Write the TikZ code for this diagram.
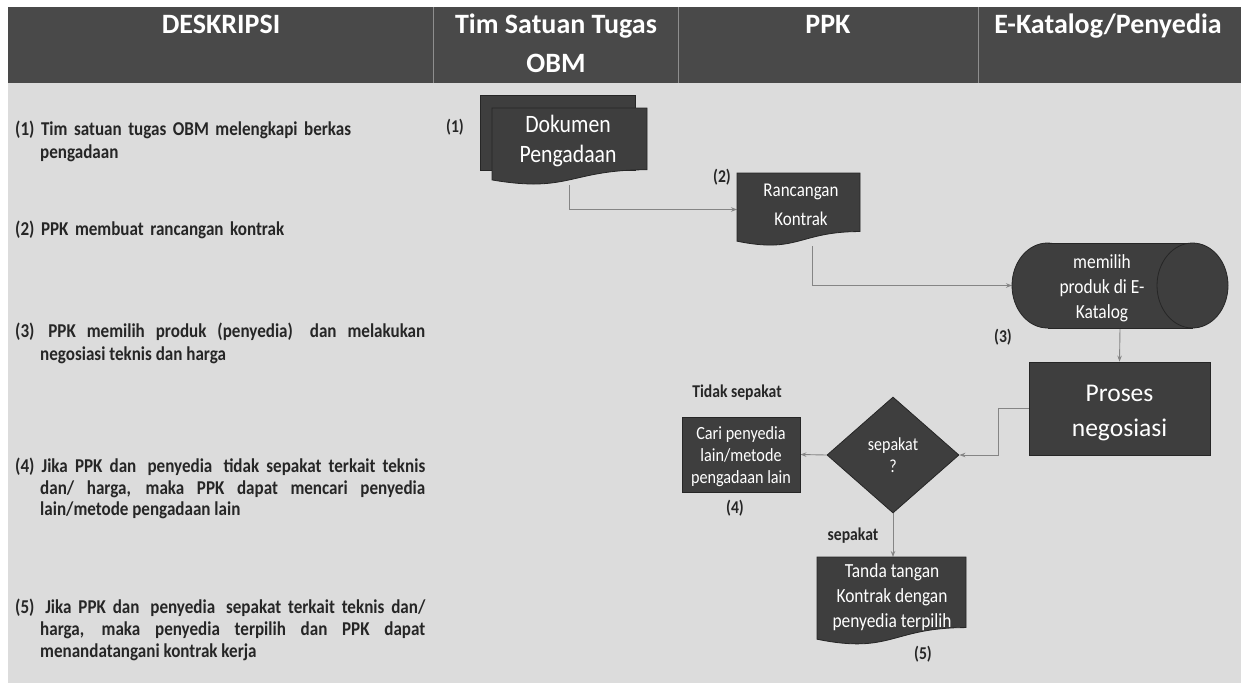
\documentclass[tikz,border=0pt]{standalone}
\usepackage{fontspec}
\setmainfont{Carlito}
\newfontfamily\cfont{Carlito}[FakeStretch=0.87]
\usetikzlibrary{calc,arrows.meta,shapes.geometric}
\pgfdeclarelayer{pagebg}
\pgfdeclarelayer{connlayer}
\pgfdeclarelayer{shapelayer}
\pgfsetlayers{pagebg,connlayer,shapelayer,main}
\definecolor{hdr}{HTML}{494949}
\definecolor{pagegrey}{HTML}{DCDCDC}
\definecolor{shapefill}{HTML}{3E3E3E}
\definecolor{shapeedge}{HTML}{262626}
\definecolor{connc}{HTML}{858585}
\definecolor{divc}{HTML}{8E8E8E}
\definecolor{inkc}{HTML}{262626}
\tikzset{
  frame/.style={draw=none, inner sep=0pt, outer sep=0pt},
  shapefillst/.style={fill=shapefill, draw=shapeedge, line width=0.8pt},
  conn/.style={draw=connc, line width=0.9pt, -{Stealth[length=6pt,width=4.5pt]}},
  hdrtext/.style={text=white, font=\fontsize{28}{39}\selectfont\bfseries, inner sep=0pt, align=center},
  desc/.style={anchor=north west, inner sep=0pt, text width=410pt, text=inkc},
  lbl/.style={text=inkc, font=\cfont\fontsize{18}{21}\selectfont\bfseries, inner sep=0pt},
  wtext/.style={text=white, align=center, inner sep=0pt},
}
\newcommand{\docshape}[1]{%
  \filldraw[shapefillst] (#1.north west) -- (#1.north east)
    -- ($(#1.north east)!0.802!(#1.south east)$)
    .. controls ($(#1.north)!0.802!(#1.south)$) and ($(#1.north)!1.107!(#1.south)$)
    .. ($(#1.north west)!0.934!(#1.south west)$) -- cycle;}
\newcommand{\hang}{\hspace*{25pt}}
\begin{document}
\begin{tikzpicture}[x=1pt,y=-1pt]
\useasboundingbox (0,0) rectangle (1241,689);
\begin{pgfonlayer}{pagebg}
  \fill[white] (0,0) rectangle (1241,689);
  \fill[pagegrey] (8,83) rectangle (1241,683);
  \fill[hdr] (8,7) rectangle (1241,83);
  \draw[divc, line width=0.8pt] (433,7) -- (433,83) (678,7) -- (678,83) (978,7) -- (978,83);
\end{pgfonlayer}

% header
\node[hdrtext, anchor=base] (h1) at (221,33) {DESKRIPSI};
\node[hdrtext, anchor=north] (h2) at (556,14) {Tim Satuan Tugas\\OBM};
\node[hdrtext, anchor=base] (h3) at (828,33) {PPK};
\node[hdrtext, anchor=base] (h4) at (1108,33) {E-Katalog/Penyedia};

% descriptions
\node[desc, align=left, font=\cfont\fontsize{19.6}{23}\selectfont\bfseries] (d1) at (15,119)
  {\strut(1) Tim satuan tugas OBM melengkapi berkas\\\hang pengadaan};
\node[desc, align=left, font=\cfont\fontsize{19.6}{23}\selectfont\bfseries] (d2) at (15,219)
  {\strut(2) PPK membuat rancangan kontrak};
\node[desc, align=justify, font=\cfont\fontsize{19.6}{23}\selectfont\bfseries] (d3) at (15,321)
  {\strut(3)\hspace{3pt} PPK memilih produk (penyedia)\hspace{6pt} dan melakukan\linebreak\hang negosiasi teknis dan harga};
\node[desc, align=justify, font=\cfont\fontsize{19.6}{21.7}\selectfont\bfseries] (d4) at (15,457)
  {\strut(4) Jika PPK dan\hspace{4pt} penyedia\hspace{4pt} tidak sepakat terkait teknis\linebreak\hang dan/ harga, maka PPK dapat mencari penyedia\linebreak\hang lain/metode pengadaan lain};
\node[desc, align=justify, font=\cfont\fontsize{19.6}{22}\selectfont\bfseries] (d5) at (15,597.6)
  {\strut(5)\hspace{4pt} Jika PPK dan\hspace{4pt} penyedia\hspace{4pt} sepakat terkait teknis dan/\linebreak\hang harga, maka penyedia terpilih dan PPK dapat\linebreak\hang menandatangani kontrak kerja};

% shape frames
\node[frame, minimum width=155, minimum height=75] (dokback) at (557.5,132.5) {};
\node[frame, minimum width=155, minimum height=77] (dok) at (569.5,146.5) {};
\node[frame, minimum width=123, minimum height=73] (ranc) at (798.5,209.5) {};
\node[frame, minimum width=216, minimum height=85] (cyl) at (1120,285.5) {};
\node[frame, minimum width=149, minimum height=88] (tanda) at (891.5,601) {};

\node[shapefillst, rectangle, minimum width=181, minimum height=93, inner sep=0pt] (pros) at (1119.5,408.5) {};
\node[shapefillst, diamond, wtext, minimum width=132, minimum height=116,
  font=\cfont\fontsize{18.4}{22}\selectfont] (dia) at (893,455) {sepakat\\?};
\node[shapefillst, rectangle, minimum width=118, minimum height=75, inner sep=0pt] (cari) at (741,454.5) {};

\begin{pgfonlayer}{shapelayer}
  \filldraw[shapefillst] (dokback.north west) rectangle (dokback.south east);
  \docshape{dok}
  \docshape{ranc}
  \docshape{tanda}
  \coordinate (cylL) at ($(cyl.west)+(35.5,0)$);
  \coordinate (cylR) at ($(cyl.east)+(-35.5,0)$);
  \filldraw[shapefillst] (cylL) ellipse [x radius=35.5, y radius=42.5];
  \fill[shapefill] (cylL |- cyl.north) rectangle (cylR |- cyl.south);
  \draw[shapeedge, line width=0.8pt] (cylL |- cyl.north) -- (cylR |- cyl.north)
    (cylL |- cyl.south) -- (cylR |- cyl.south);
  \filldraw[shapefillst] (cylR) ellipse [x radius=35.5, y radius=42.5];
\end{pgfonlayer}

% shape texts
\node[wtext, font=\cfont\fontsize{25}{30}\selectfont] (dokT) at (568,141) {Dokumen\\Pengadaan};
\node[wtext, font=\cfont\fontsize{19.5}{29}\selectfont] (rancT) at (801,205) {Rancangan\\Kontrak};
\node[wtext, font=\cfont\fontsize{20}{25}\selectfont] (cylT) at (1102,288.5) {memilih\\produk di E-\\Katalog};
\node[wtext, font=\cfont\fontsize{20}{25}\selectfont] (tandaT) at (892,597) {Tanda tangan\\Kontrak dengan\\penyedia terpilih};
\node[wtext, font=\fontsize{25.5}{35}\selectfont] (prosT) at (1119.5,413) {Proses\\negosiasi};
\node[wtext, font=\cfont\fontsize{18.6}{22}\selectfont] (cariT) at (741,456.5) {Cari penyedia\\lain/metode\\pengadaan lain};

% labels
\node[lbl] (l1) at (455,127) {(1)};
\node[lbl] (l2) at (722,177) {(2)};
\node[lbl] (l3) at (1003,337) {(3)};
\node[lbl] (l4) at (735,508) {(4)};
\node[lbl] (l5) at (923,654) {(5)};
\node[lbl] (tidak) at (737,393) {Tidak sepakat};
\node[lbl] (sep) at (853,536) {sepakat};

% connectors
\begin{pgfonlayer}{connlayer}
  \draw[conn] (dok.south) |- (ranc.west);
  \draw[conn] ([xshift=14pt]ranc.south) |- (cyl.west);
  \draw[conn] (cyl.south) -- (pros.north);
  \draw[conn] (pros.west) -- ++(-30,0) |- (dia.east);
  \draw[conn] (dia.west) -- (cari.east);
  \draw[conn] (dia.south) -- (dia.south |- tanda.north);
\end{pgfonlayer}
\end{tikzpicture}
\end{document}
